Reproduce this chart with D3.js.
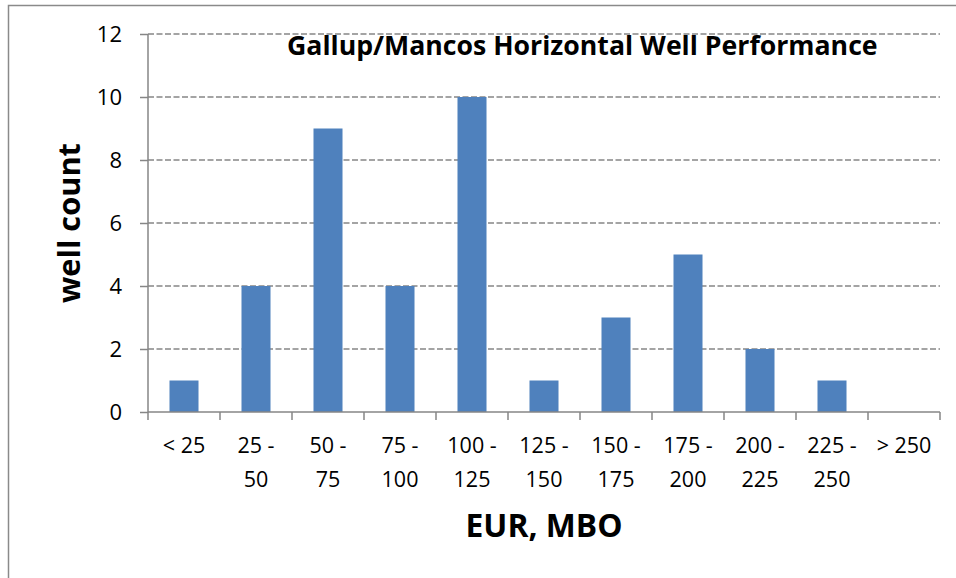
<!DOCTYPE html>
<html>
<head>
<meta charset="utf-8">
<script src="https://cdnjs.cloudflare.com/ajax/libs/d3/7.8.5/d3.min.js"></script>
<style>
  body { margin: 0; background: #fff; }
  text { font-family: "Open Sans", sans-serif; fill: #000; }
</style>
</head>
<body>
<svg id="chart" width="956" height="578"></svg>
<script>
var categories = ['< 25', '25 - 50', '50 - 75', '75 - 100', '100 - 125', '125 - 150',
                  '150 - 175', '175 - 200', '200 - 225', '225 - 250', '> 250']
var wellCount = [1, 4, 9, 4, 10, 1, 3, 5, 2, 1, 0]
var yTicks = [0, 2, 4, 6, 8, 10, 12]

var svg = d3.select('#chart')
var plotLeft = 148, plotRight = 940, plotTop = 34, plotBottom = 412

// frame (only top and left edges fall inside the picture)
svg.append('path')
   .attr('d', 'M8.5,578V5.5H956')
   .attr('fill', 'none')
   .attr('stroke', '#8a8a8a')
   .attr('stroke-width', 1.5)

var x = d3.scaleBand()
          .domain(categories)
          .range([plotLeft, plotRight])
          .paddingInner(0.597)
          .paddingOuter(0.597 / 2)

var y = d3.scaleLinear().domain([0, 12]).range([plotBottom, plotTop])

// gridlines
svg.append('g')
   .selectAll('line')
   .data(yTicks.filter(d => d > 0))
   .enter()
   .append('line')
   .attr('x1', plotLeft)
   .attr('x2', plotRight)
   .attr('y1', d => y(d))
   .attr('y2', d => y(d))
   .attr('stroke', '#868686')
   .attr('stroke-width', 1.5)
   .attr('stroke-dasharray', '6,2.5')

// bars
svg.append('g')
   .selectAll('rect')
   .data(categories)
   .enter()
   .append('rect')
   .attr('x', d => x(d))
   .attr('width', x.bandwidth())
   .attr('y', (d, i) => y(wellCount[i]))
   .attr('height', (d, i) => y(0) - y(wellCount[i]))
   .attr('fill', '#4f81bd')

// y axis
var yAxis = svg.append('g')
   .attr('transform', 'translate(' + plotLeft + ',0)')
   .call(d3.axisLeft(y).tickValues(yTicks).tickSize(8).tickPadding(18).tickFormat(d3.format('d')))
yAxis.selectAll('path, line').attr('stroke', '#868686').attr('stroke-width', 1.5)
yAxis.select('.domain').attr('d', 'M0,' + plotTop + 'V' + plotBottom)
yAxis.selectAll('text')
     .style('font-family', '"Open Sans", sans-serif')
     .attr('font-size', 22)
     .attr('fill', '#000')

// x axis line and boundary ticks
var step = x.step()
var bounds = categories.map(d => x(d) - (step - x.bandwidth()) / 2)
bounds.push(plotRight)
var xAxis = svg.append('g')
xAxis.append('line')
     .attr('x1', plotLeft).attr('x2', plotRight)
     .attr('y1', plotBottom).attr('y2', plotBottom)
     .attr('stroke', '#868686').attr('stroke-width', 1.5)
xAxis.selectAll('line.tick')
     .data(bounds)
     .enter()
     .append('line')
     .attr('class', 'tick')
     .attr('x1', d => d).attr('x2', d => d)
     .attr('y1', plotBottom).attr('y2', plotBottom + 8)
     .attr('stroke', '#868686').attr('stroke-width', 1.5)

// category labels, wrapped at the dash
var labels = xAxis.selectAll('text')
     .data(categories)
     .enter()
     .append('text')
     .attr('text-anchor', 'middle')
     .attr('font-size', 21.5)
     .attr('transform', d => 'translate(' + (x(d) + x.bandwidth() / 2) + ',0)')
labels.each(function (d) {
  var parts = d.indexOf(' - ') > 0 ? [d.split(' - ')[0] + ' -', d.split(' - ')[1]] : [d]
  d3.select(this).selectAll('tspan')
    .data(parts)
    .enter()
    .append('tspan')
    .attr('x', 0)
    .attr('y', (p, i) => 453 + i * 34)
    .text(p => p)
})

// fit a bold text to a measured width
var fit = function (sel, width) {
  var w = sel.node().getComputedTextLength()
  sel.attr('font-size', +sel.attr('font-size') * width / w)
}

var title = svg.append('text')
   .attr('x', 287)
   .attr('y', 55)
   .attr('font-weight', 'bold')
   .attr('font-size', 26)
   .text('Gallup/Mancos Horizontal Well Performance')
fit(title, 591)

var xTitle = svg.append('text')
   .attr('x', (plotLeft + plotRight) / 2)
   .attr('y', 537)
   .attr('text-anchor', 'middle')
   .attr('font-weight', 'bold')
   .attr('font-size', 30)
   .text('EUR, MBO')
fit(xTitle, 157)

var yTitle = svg.append('text')
   .attr('transform', 'translate(80,' + (plotTop + plotBottom) / 2 + ') rotate(-90)')
   .attr('text-anchor', 'middle')
   .attr('font-weight', 'bold')
   .attr('font-size', 30)
   .text('well count')
fit(yTitle, 160)
</script>
</body>
</html>
